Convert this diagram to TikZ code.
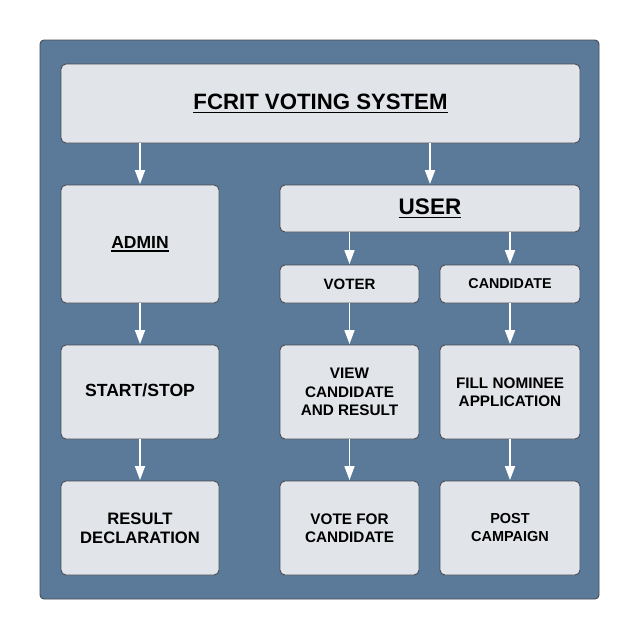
\documentclass[tikz,border=0pt]{standalone}
\usepackage{fontspec}
\setmainfont{Liberation Sans}
\usetikzlibrary{arrows.meta}
\definecolor{panel}{RGB}{91,122,153}
\definecolor{boxfill}{RGB}{225,228,233}
\definecolor{boxline}{RGB}{70,76,84}
\newcommand{\myul}[2]{\leavevmode\vtop{\hbox{#2}\kern2.2pt\hrule height #1}}
\begin{document}
\begin{tikzpicture}[x=1pt,y=-1pt,
  box/.style={draw=boxline, line width=0.9pt, fill=boxfill, rounded corners=5pt,
    align=center, inner sep=0pt, font=\bfseries\fontsize{15.3}{18.5}\selectfont, text=black},
  flow/.style={draw=white, line width=1.6pt, -{Triangle[length=14pt,width=10pt]}, shorten >=0.5pt}]
\useasboundingbox (0,0) rectangle (640,640);
\fill[white] (0,0) rectangle (640,640);
\draw[draw=boxline, line width=0.9pt, fill=panel, rounded corners=4pt] (40,40) rectangle (599,599);

\node[box, minimum width=519pt, minimum height=79pt, font=\bfseries\fontsize{22.2}{26}\selectfont]
  (title) at (320.5,103.5) {\raisebox{2.5pt}{\myul{1.8pt}{FCRIT VOTING SYSTEM}}};
\node[box, minimum width=158pt, minimum height=118pt, font=\bfseries\fontsize{17.5}{21}\selectfont]
  (admin) at (140,244) {\raisebox{4pt}{\myul{1.5pt}{ADMIN}}};
\node[box, minimum width=300pt, minimum height=47pt, font=\bfseries\fontsize{22.5}{26}\selectfont]
  (user) at (430,208.5) {\raisebox{1.5pt}{\myul{1.8pt}{USER}}};
\node[box, minimum width=139pt, minimum height=38pt, font=\bfseries\fontsize{15}{18}\selectfont]
  (voter) at (349.5,284) {VOTER};
\node[box, minimum width=140pt, minimum height=38pt, font=\bfseries\fontsize{14.3}{18}\selectfont]
  (cand) at (510,284) {CANDIDATE};

\node[box, minimum width=158pt, minimum height=94pt, font=\bfseries\fontsize{17.6}{20}\selectfont]
  (start) at (140,392) {\raisebox{3.5pt}{START/STOP}};
\node[box, minimum width=139pt, minimum height=94pt]
  (view) at (349.5,392) {\raisebox{1pt}{\parbox{139pt}{\centering VIEW\\CANDIDATE\\AND RESULT}}};
\node[box, minimum width=140pt, minimum height=94pt]
  (fill) at (510,392) {\raisebox{1.5pt}{\parbox{140pt}{\centering FILL NOMINEE\\APPLICATION}}};

\node[box, minimum width=158pt, minimum height=94pt, font=\bfseries\fontsize{16.6}{19}\selectfont]
  (result) at (140,528) {\raisebox{2pt}{\parbox{158pt}{\centering RESULT\\DECLARATION}}};
\node[box, minimum width=139pt, minimum height=94pt]
  (vote) at (349.5,528) {\raisebox{2pt}{\parbox{139pt}{\centering VOTE FOR\\CANDIDATE}}};
\node[box, minimum width=140pt, minimum height=94pt, font=\bfseries\fontsize{14.5}{18}\selectfont]
  (post) at (510,528) {\raisebox{3pt}{\parbox{140pt}{\centering POST\\CAMPAIGN}}};

\draw[flow] (title.south -| admin.north) -- (admin.north);
\draw[flow] (title.south -| user.north) -- (user.north);
\draw[flow] (user.south -| voter.north) -- (voter.north);
\draw[flow] (user.south -| cand.north) -- (cand.north);
\draw[flow] (admin) -- (start);
\draw[flow] (start) -- (result);
\draw[flow] (voter) -- (view);
\draw[flow] (view) -- (vote);
\draw[flow] (cand) -- (fill);
\draw[flow] (fill) -- (post);
\end{tikzpicture}
\end{document}
